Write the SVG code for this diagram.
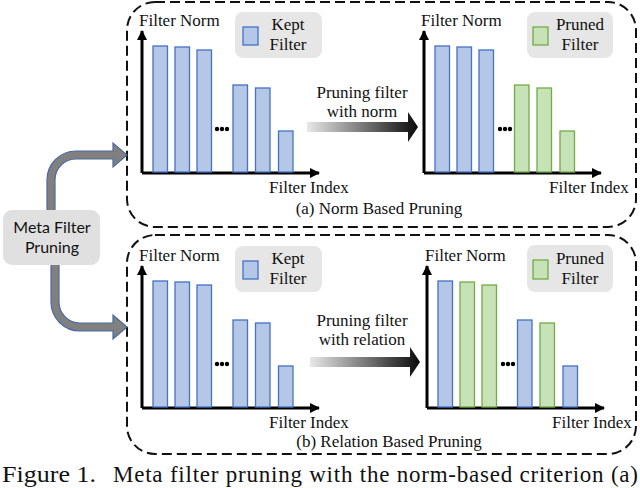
<svg xmlns="http://www.w3.org/2000/svg" width="640" height="488" viewBox="0 0 640 488">
<style>
.t{font-family:"Liberation Serif","Times New Roman",serif;font-size:17px;fill:#111}
.c{text-anchor:middle}
.s{font-family:Lato,"Liberation Sans",sans-serif;font-size:16px;fill:#111;text-anchor:middle}
.panel{fill:none;stroke:#111;stroke-width:2;stroke-dasharray:10 5}
.ax{stroke:#000;stroke-width:3;fill:none}
.b{fill:#b4c7e7;stroke:#4472c4;stroke-width:1.3}
.g{fill:#c8e2b8;stroke:#70ad47;stroke-width:1.3}
.leg{fill:#e6e6e6}
.curve{fill:#808080;stroke:#4a6aa0;stroke-width:1.2}
.cap{font-family:"Liberation Serif","Times New Roman",serif;font-size:23px;fill:#111}
</style>
<defs>
<marker id="ah" viewBox="0 0 10 10" refX="9" refY="5" markerWidth="3.4" markerHeight="3.4" orient="auto" markerUnits="strokeWidth">
<path d="M0,0 L10,5 L0,10 Z" fill="#000"/>
</marker>
<linearGradient id="gr" x1="0" y1="0" x2="1" y2="0">
<stop offset="0" stop-color="#e8e8e8"/>
<stop offset="1" stop-color="#0a0a0a"/>
</linearGradient>
<circle id="dot" r="2.2" fill="#000"/>
</defs>

<rect x="0" y="0" width="640" height="488" fill="#fff"/>

<g id="panel-a">
<rect class="panel" x="127" y="2" width="509" height="225" rx="28"/>
<text class="t c" x="379" y="214">(a) Norm Based Pruning</text>
</g>
<g id="panel-b">
<rect class="panel" x="127" y="235" width="509" height="219" rx="28"/>
<text class="t c" x="389" y="447">(b) Relation Based Pruning</text>
</g>

<g id="connectors">
<path class="curve" d="M47,212 L47,180 A29,29 0 0 1 76,151 L113,151 L113,143 L127,155 L113,167 L113,159 L76,159 A21,21 0 0 0 55,180 L55,212 Z"/>
<path class="curve" d="M51,262 L51,302 A29,29 0 0 0 80,331 L113,331 L113,339 L127,327 L113,315 L113,323 L80,323 A21,21 0 0 1 59,302 L59,262 Z"/>
<path d="M307,122 L408,122 L408,112 L418,127 L408,142 L408,132 L307,132 Z" fill="url(#gr)"/>
<path d="M310,357 L410,357 L410,347 L420,362 L410,377 L410,367 L310,367 Z" fill="url(#gr)"/>
</g>

<g id="meta">
<rect x="3" y="210" width="97" height="55" rx="9" fill="#e0e0e0"/>
<text class="s" x="52" y="233">Meta Filter</text>
<text class="s" x="52" y="253">Pruning</text>
</g>

<g id="label-norm">
<text class="t c" x="362" y="98">Pruning filter</text>
<text class="t c" x="362" y="117">with norm</text>
</g>
<g id="label-relation">
<text class="t c" x="362" y="326">Pruning filter</text>
<text class="t c" x="362" y="345">with relation</text>
</g>

<g id="chart-a-kept">
<text class="t" x="139" y="26">Filter Norm</text>
<text class="t" x="269" y="193">Filter Index</text>
<line class="ax" x1="142" y1="173" x2="142" y2="31" marker-end="url(#ah)"/>
<line class="ax" x1="142" y1="173" x2="319" y2="173" marker-end="url(#ah)"/>
<rect class="b" x="153" y="46" width="14.5" height="126"/>
<rect class="b" x="175" y="47" width="14.5" height="125"/>
<rect class="b" x="197" y="50" width="14.5" height="122"/>
<rect class="b" x="233" y="85" width="14.5" height="87"/>
<rect class="b" x="255.5" y="88" width="14.5" height="84"/>
<rect class="b" x="278.5" y="131" width="14.5" height="41"/>
<use href="#dot" x="217" y="129"/><use href="#dot" x="222" y="129"/><use href="#dot" x="227" y="129"/>
</g>
<g id="legend-a-kept">
<rect class="leg" x="235" y="12" width="87" height="46" rx="8"/>
<rect class="b" x="243" y="27" width="15" height="18"/>
<text class="t c" x="288" y="30">Kept</text>
<text class="t c" x="288" y="50">Filter</text>
</g>

<g id="chart-a-pruned">
<text class="t" x="421" y="26">Filter Norm</text>
<text class="t" x="549" y="193">Filter Index</text>
<line class="ax" x1="424" y1="173" x2="424" y2="31" marker-end="url(#ah)"/>
<line class="ax" x1="424" y1="173" x2="601" y2="173" marker-end="url(#ah)"/>
<rect class="b" x="435" y="46" width="14.5" height="126"/>
<rect class="b" x="457" y="47" width="14.5" height="125"/>
<rect class="b" x="479" y="50" width="14.5" height="122"/>
<rect class="g" x="514.5" y="85" width="14.5" height="87"/>
<rect class="g" x="537" y="88" width="14.5" height="84"/>
<rect class="g" x="560" y="131" width="14.5" height="41"/>
<use href="#dot" x="500" y="129"/><use href="#dot" x="505" y="129"/><use href="#dot" x="510" y="129"/>
</g>
<g id="legend-a-pruned">
<rect class="leg" x="527" y="12" width="86" height="46" rx="8"/>
<rect class="g" x="533" y="27" width="15" height="18"/>
<text class="t c" x="580" y="30">Pruned</text>
<text class="t c" x="580" y="50">Filter</text>
</g>

<g id="chart-b-kept">
<text class="t" x="139" y="261">Filter Norm</text>
<text class="t" x="269" y="428">Filter Index</text>
<line class="ax" x1="142" y1="408" x2="142" y2="266" marker-end="url(#ah)"/>
<line class="ax" x1="142" y1="408" x2="319" y2="408" marker-end="url(#ah)"/>
<rect class="b" x="153" y="281" width="14.5" height="126"/>
<rect class="b" x="175" y="282" width="14.5" height="125"/>
<rect class="b" x="197" y="285" width="14.5" height="122"/>
<rect class="b" x="233" y="320" width="14.5" height="87"/>
<rect class="b" x="255.5" y="323" width="14.5" height="84"/>
<rect class="b" x="278.5" y="366" width="14.5" height="41"/>
<use href="#dot" x="217" y="364"/><use href="#dot" x="222" y="364"/><use href="#dot" x="227" y="364"/>
</g>
<g id="legend-b-kept">
<rect class="leg" x="235" y="246" width="87" height="46" rx="8"/>
<rect class="b" x="243" y="261" width="15" height="18"/>
<text class="t c" x="288" y="264">Kept</text>
<text class="t c" x="288" y="284">Filter</text>
</g>

<g id="chart-b-pruned">
<text class="t" x="425" y="261">Filter Norm</text>
<text class="t" x="552" y="428">Filter Index</text>
<line class="ax" x1="427" y1="408" x2="427" y2="266" marker-end="url(#ah)"/>
<line class="ax" x1="427" y1="408" x2="604" y2="408" marker-end="url(#ah)"/>
<rect class="b" x="438" y="281" width="14.5" height="126"/>
<rect class="g" x="460" y="282" width="14.5" height="125"/>
<rect class="g" x="482" y="285" width="14.5" height="122"/>
<rect class="b" x="517.5" y="320" width="14.5" height="87"/>
<rect class="g" x="540" y="323" width="14.5" height="84"/>
<rect class="b" x="563" y="366" width="14.5" height="41"/>
<use href="#dot" x="503" y="364"/><use href="#dot" x="508" y="364"/><use href="#dot" x="513" y="364"/>
</g>
<g id="legend-b-pruned">
<rect class="leg" x="527" y="245" width="86" height="47" rx="8"/>
<rect class="g" x="533" y="260" width="15" height="19"/>
<text class="t c" x="580" y="264">Pruned</text>
<text class="t c" x="580" y="284">Filter</text>
</g>

<g id="caption">
<text class="cap" x="2" y="482" textLength="94" lengthAdjust="spacingAndGlyphs">Figure 1.</text>
<text class="cap" x="113" y="482" textLength="525" lengthAdjust="spacing">Meta filter pruning with the norm-based criterion (a)</text>
</g>
</svg>
